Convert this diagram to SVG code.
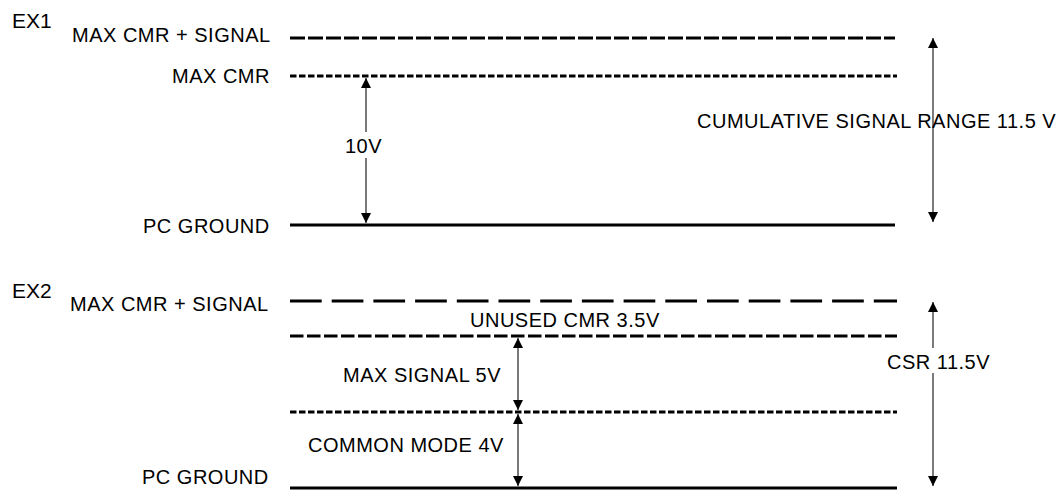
<svg xmlns="http://www.w3.org/2000/svg" width="1060" height="492" viewBox="0 0 1060 492">
<defs>
<marker id="ah" viewBox="0 0 10 10" refX="10" refY="5" markerWidth="10" markerHeight="10" markerUnits="userSpaceOnUse" orient="auto-start-reverse"><path d="M0,0 L10,5 L0,10 z" fill="#000"/></marker>
<style>
text{font-family:"Liberation Sans",Arial,sans-serif;fill:#000;font-size:20px;letter-spacing:0.5px}
.big{font-size:21px;letter-spacing:0}
.lv{stroke:#000;stroke-width:3;fill:none}
.a{stroke:#222;stroke-width:1.2;fill:none;marker-start:url(#ah);marker-end:url(#ah)}
</style>
</defs>
<g id="ex1">
<text class="big" x="12" y="28">EX1</text>
<text x="72" y="42">MAX CMR + SIGNAL</text>
<text x="172" y="83">MAX CMR</text>
<text x="143" y="233">PC GROUND</text>
</g>
<g id="ex2">
<text class="big" x="12" y="298">EX2</text>
<text x="70" y="311">MAX CMR + SIGNAL</text>
<text x="142" y="484">PC GROUND</text>
</g>
<g id="connectors">
<line class="lv" x1="290" y1="38" x2="895" y2="38" stroke-dasharray="15 3"/>
<line class="lv" x1="290" y1="76" x2="897" y2="76" stroke-dasharray="6.5 2.5"/>
<line class="lv" x1="290" y1="225" x2="895" y2="225"/>
<line class="a" x1="366" y1="78" x2="366" y2="223"/>
<line class="a" x1="933" y1="38" x2="933" y2="222"/>
<line class="lv" x1="290" y1="301" x2="897" y2="301" stroke-dasharray="31.7 10"/>
<line class="lv" x1="290" y1="336" x2="897" y2="336" stroke-dasharray="13.5 3.5"/>
<line class="lv" x1="290" y1="412" x2="897" y2="412" stroke-dasharray="6.5 2.5"/>
<line class="lv" x1="290" y1="488" x2="897" y2="488"/>
<line class="a" x1="518" y1="338" x2="518" y2="410"/>
<line class="a" x1="518" y1="414" x2="518" y2="486"/>
<line class="a" x1="933" y1="302" x2="933" y2="486"/>
</g>
<g id="labels">
<rect x="343" y="132" width="42" height="26" fill="#fff"/>
<text x="345" y="153">10V</text>
<text x="697" y="128">CUMULATIVE SIGNAL RANGE 11.5 V</text>
<text x="470" y="327">UNUSED CMR 3.5V</text>
<text x="343" y="382">MAX SIGNAL 5V</text>
<text x="308" y="452">COMMON MODE 4V</text>
<rect x="926" y="348" width="14" height="25" fill="#fff"/>
<text x="887" y="369">CSR 11.5V</text>
</g>
</svg>
